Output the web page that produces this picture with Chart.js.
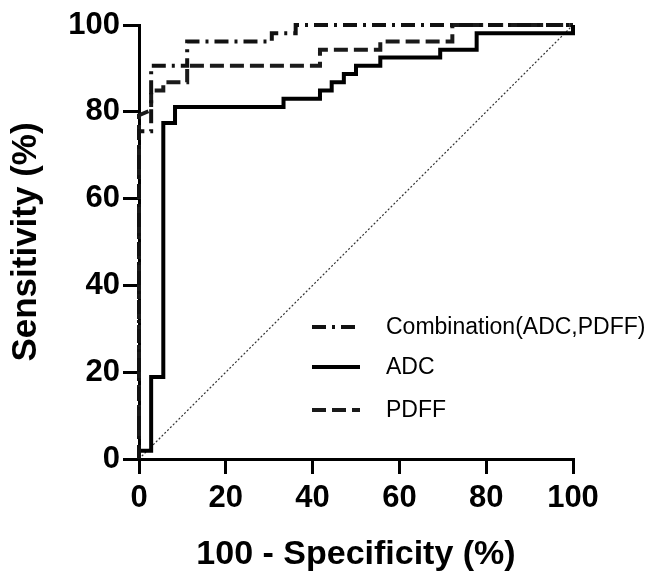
<!DOCTYPE html>
<html lang="en">
  <head>
    <meta charset="UTF-8" />
    <title>ROC</title>
    <script src="https://cdn.jsdelivr.net/npm/chart.js@4.4.1/dist/chart.umd.min.js"></script>
    <style>
      html, body { margin: 0; padding: 0; background: #fff; }
      #box { width: 650px; height: 573px; }
    </style>
  </head>
  <body>
    <div id="box"><canvas id="roc" width="650" height="573"></canvas></div>
    <script>
      // curve corners (100 - specificity, sensitivity), in %
      var comboX = [0, 0, 2.8, 2.8, 11.1, 11.1, 30.6, 30.6, 36.1, 36.1, 100];
      var comboY = [0, 75.5, 75.5, 90.6, 90.6, 96.2, 96.2, 98.1, 98.1, 100, 100];

      var adcX = [0, 0, 2.8, 2.8, 5.6, 5.6, 8.3, 8.3, 33.3, 33.3, 41.7, 41.7, 44.4, 44.4,
        47.2, 47.2, 50, 50, 55.6, 55.6, 69.4, 69.4, 77.8, 77.8, 100, 100];
      var adcY = [0, 1.9, 1.9, 18.9, 18.9, 77.4, 77.4, 81.1, 81.1, 83.0, 83.0, 84.9, 84.9, 86.8,
        86.8, 88.7, 88.7, 90.6, 90.6, 92.5, 92.5, 94.3, 94.3, 98.1, 98.1, 100];

      var pdffX = [0, 0, 2.8, 2.8, 5.6, 5.6, 11.1, 11.1, 41.7, 41.7, 55.6, 55.6, 72.2, 72.2, 100];
      var pdffY = [0, 79.2, 80.4, 84.9, 84.9, 86.8, 86.8, 90.6, 90.6, 94.3, 94.3, 96.2, 96.2, 100, 100];

      var chanceX = [0, 100];
      var chanceY = [0, 100];

      var labels = ["Combination(ADC,PDFF)", "ADC", "PDFF"];
      var ticksPct = [0, 20, 40, 60, 80, 100];

      function pts(xs, ys) {
        return xs.map(function (x, i) { return { x: x, y: ys[i] }; });
      }

      // legend sits inside the plot, so draw it by hand
      var innerLegend = {
        id: "innerLegend",
        afterDatasetsDraw: function (chart) {
          var ctx = chart.ctx;
          var rows = [327, 367, 410];
          ctx.save();
          for (var i = 0; i < 3; i++) {
            var ds = chart.data.datasets[i];
            ctx.beginPath();
            ctx.setLineDash(ds.borderDash || []);
            ctx.lineWidth = ds.borderWidth;
            ctx.strokeStyle = ds.borderColor;
            ctx.moveTo(312, rows[i]);
            ctx.lineTo(360, rows[i]);
            ctx.stroke();
            ctx.setLineDash([]);
            ctx.fillStyle = "#000";
            ctx.font = "23px 'Liberation Sans', Arial, sans-serif";
            ctx.textBaseline = "middle";
            ctx.fillText(ds.label, 386, rows[i] + 1);
          }
          ctx.restore();
        }
      };

      var tickFont = { family: "'Liberation Sans', Arial, sans-serif", size: 31, weight: "bold" };
      var titleFont = { family: "'Liberation Sans', Arial, sans-serif", size: 35, weight: "bold", lineHeight: 1.2 };

      new Chart(document.getElementById("roc"), {
        type: "line",
        data: {
          datasets: [
            {
              label: labels[0],
              data: pts(comboX, comboY),
              borderColor: "#111",
              borderWidth: 4,
              borderDash: [14, 6, 3, 6],
              pointRadius: 0,
              fill: false,
              clip: false,
            },
            {
              label: labels[1],
              data: pts(adcX, adcY),
              borderColor: "#000",
              borderWidth: 4,
              pointRadius: 0,
              fill: false,
              clip: false,
            },
            {
              label: labels[2],
              data: pts(pdffX, pdffY),
              borderColor: "#1a1a1a",
              borderWidth: 4,
              borderDash: [14, 6],
              pointRadius: 0,
              fill: false,
              clip: false,
            },
            {
              label: "chance",
              data: pts(chanceX, chanceY),
              borderColor: "#333",
              borderWidth: 1.2,
              borderDash: [2, 2],
              pointRadius: 0,
              fill: false,
            },
          ],
        },
        options: {
          responsive: false,
          animation: false,
          layout: { padding: { left: 0, right: 77, top: 25, bottom: 0 } },
          plugins: { legend: { display: false }, tooltip: { enabled: false } },
          scales: {
            x: {
              type: "linear",
              min: 0,
              max: 100,
              afterBuildTicks: function (s) { s.ticks = ticksPct.map(function (v) { return { value: v }; }); },
              afterFit: function (s) { s.height = 114; },
              border: { color: "#000", width: 3 },
              grid: { drawOnChartArea: false, drawTicks: true, tickLength: 15, color: "#000", lineWidth: 3 },
              ticks: { color: "#000", font: tickFont, padding: 6, maxRotation: 0 },
              title: {
                display: true,
                text: "100 - Specificity (%)",
                color: "#000",
                font: { family: titleFont.family, size: 34, weight: "bold", lineHeight: 1 },
                padding: { top: 0, bottom: 1 },
              },
            },
            y: {
              min: 0,
              max: 100,
              afterBuildTicks: function (s) { s.ticks = ticksPct.map(function (v) { return { value: v }; }); },
              afterFit: function (s) { s.width = 139; },
              border: { color: "#000", width: 3 },
              grid: { drawOnChartArea: false, drawTicks: true, tickLength: 16, color: "#000", lineWidth: 3 },
              ticks: { color: "#000", font: tickFont, padding: 3 },
              title: {
                display: true,
                text: "Sensitivity (%)",
                color: "#000",
                font: titleFont,
                padding: { top: 5, bottom: 0 },
              },
            },
          },
        },
        plugins: [innerLegend],
      });
    </script>
  </body>
</html>
